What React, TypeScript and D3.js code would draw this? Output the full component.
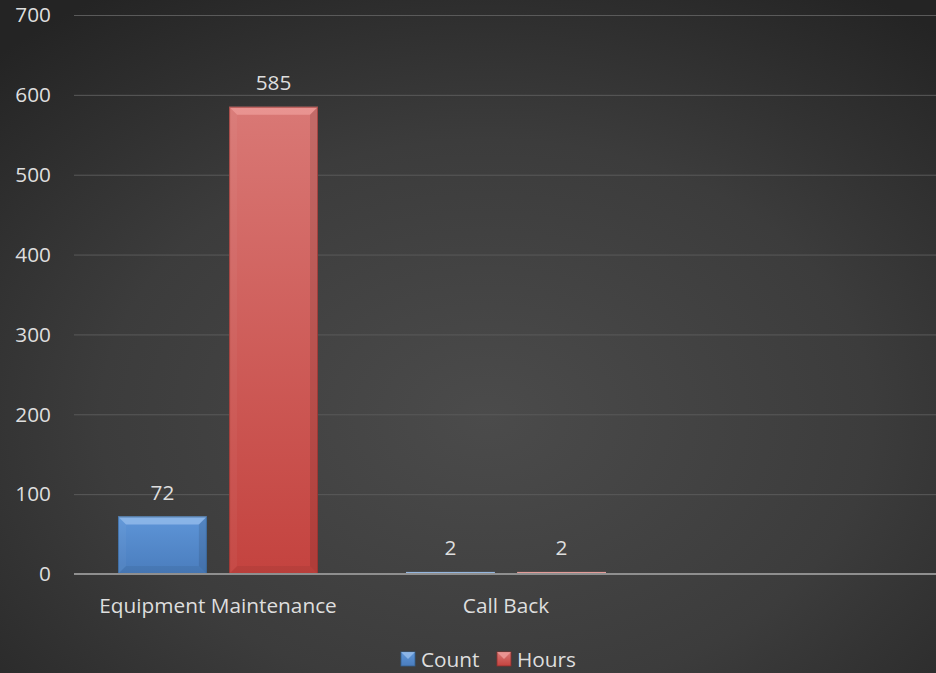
import React from "react";
import * as d3 from "d3";

const categories = ["Equipment Maintenance", "Call Back", ""];
const seriesNames = ["Count", "Hours"];
const countValues = [72, 2, null];
const hoursValues = [585, 2, null];
const yTicks = [0, 100, 200, 300, 400, 500, 600, 700];

const W = 936;
const H = 673;
const FONT = "'Open Sans', sans-serif";
const TXT = "#dedede";
const FS = 20.8;

const colors: Record<string, { top: string; bottom: string; bevel: string; thin: string; edge: string }> = {
  Count: { top: "#5e95d8", bottom: "#4a7dbd", bevel: "#9cc2ee", thin: "#95b6de", edge: "#34608f" },
  Hours: { top: "#d97875", bottom: "#c4433f", bevel: "#f0a09d", thin: "#e29c99", edge: "#8f2f2c" },
};

function BevelBar({ x, y, w, h, s }: { x: number; y: number; w: number; h: number; s: string }) {
  const c = colors[s];
  if (h < 4) {
    return <rect x={x} y={y - 0.5} width={w} height={Math.max(h, 2)} fill={c.thin} />;
  }
  const b = Math.min(8, h / 2, w / 2);
  const id = `grad-${s}`;
  return (
    <g>
      <rect x={x} y={y} width={w} height={h} fill={`url(#${id})`} />
      <polygon points={`${x},${y} ${x + w},${y} ${x + w - b},${y + b} ${x + b},${y + b}`} fill={c.bevel} opacity={0.7} />
      <polygon points={`${x},${y} ${x + b},${y + b} ${x + b},${y + h - b} ${x},${y + h}`} fill="#fff" opacity={0.04} />
      <polygon points={`${x + w},${y} ${x + w - b},${y + b} ${x + w - b},${y + h - b} ${x + w},${y + h}`} fill="#000" opacity={0.1} />
      <polygon points={`${x},${y + h} ${x + b},${y + h - b} ${x + w - b},${y + h - b} ${x + w},${y + h}`} fill="#000" opacity={0.06} />
      <rect x={x + 0.5} y={y + 0.5} width={w - 1} height={h - 1} fill="none" stroke={c.edge} strokeWidth={1} opacity={0.6} />
    </g>
  );
}

export default function App() {
  const x0 = d3.scaleBand<string>().domain(categories).range([74, 938]).paddingInner(0).paddingOuter(0);
  const x1 = d3.scaleBand<string>().domain(seriesNames).range([44, 244]).paddingInner(0.2).paddingOuter(0);
  const y = d3.scaleLinear().domain([0, 700]).range([574, 15]);
  const valuesBySeries: Record<string, (number | null)[]> = { Count: countValues, Hours: hoursValues };

  return (
    <svg width={W} height={H} style={{ position: "absolute", left: 0, top: 0 }} fontFamily={FONT}>
      <defs>
        <radialGradient id="bg" cx="52%" cy="62%" r="75%" fx="52%" fy="62%">
          <stop offset="0%" stopColor="#4b4b4b" />
          <stop offset="55%" stopColor="#3c3c3c" />
          <stop offset="100%" stopColor="#242424" />
        </radialGradient>
        {seriesNames.map((s) => (
          <linearGradient key={s} id={`grad-${s}`} x1="0" y1="0" x2="0" y2="1">
            <stop offset="0%" stopColor={colors[s].top} />
            <stop offset="100%" stopColor={colors[s].bottom} />
          </linearGradient>
        ))}
      </defs>
      <rect x={0} y={0} width={W} height={H} fill="url(#bg)" />

      {yTicks.map((t) => (
        <g key={t}>
          {t !== 0 && <line x1={74} x2={W} y1={y(t) + 0.5} y2={y(t) + 0.5} stroke="#5a5a5a" strokeWidth={1} />}
          <text x={51} y={y(t)} dy="0.35em" textAnchor="end" fill={TXT} fontSize={FS}>
            {t}
          </text>
        </g>
      ))}

      {categories.map((cat, ci) =>
        seriesNames.map((s) => {
          const v = valuesBySeries[s][ci];
          if (v == null) return null;
          const bx = (x0(cat) ?? 0) + (x1(s) ?? 0);
          const bw = x1.bandwidth();
          const top = y(v);
          const h = y(0) - top;
          return (
            <g key={cat + s}>
              <BevelBar x={bx} y={top} w={bw} h={h} s={s} />
              <text x={bx + bw / 2} y={top - 17} textAnchor="middle" fill={TXT} fontSize={FS}>
                {v}
              </text>
            </g>
          );
        })
      )}

      <line x1={74} x2={W} y1={y(0)} y2={y(0)} stroke="#8f8f8f" strokeWidth={2} />

      {categories.map((cat) => (
        <text key={cat} x={(x0(cat) ?? 0) + x0.bandwidth() / 2} y={613} textAnchor="middle" fill={TXT} fontSize={FS}>
          {cat}
        </text>
      ))}

      {seriesNames.map((s, i) => {
        const lx = [401, 497][i];
        const c = colors[s];
        return (
          <g key={s}>
            <rect x={lx} y={652} width={14} height={14} fill={`url(#grad-${s})`} stroke={c.edge} strokeWidth={0.8} />
            <polygon points={`${lx},${652} ${lx + 14},${652} ${lx + 7},${659}`} fill={c.bevel} opacity={0.75} />
            <text x={lx + 20} y={667} fill={TXT} fontSize={FS}>
              {s}
            </text>
          </g>
        );
      })}
    </svg>
  );
}
